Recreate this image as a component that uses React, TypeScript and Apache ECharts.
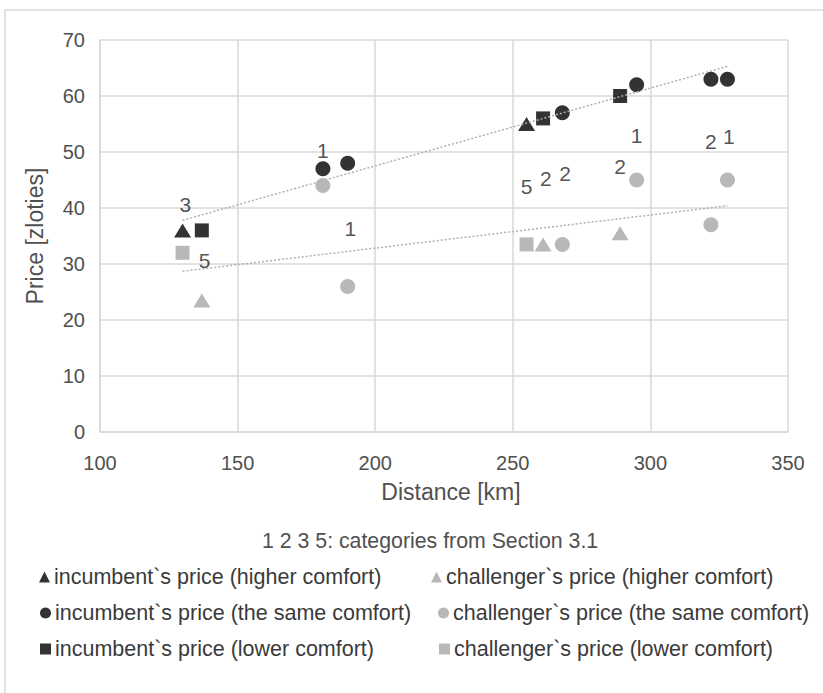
import React, { useEffect, useRef } from "react";
import * as echarts from "echarts";

const incHigherDist = [130, 255];
const incHigherPrice = [36, 55];
const incSameDist = [181, 190, 268, 295, 322, 328];
const incSamePrice = [47, 48, 57, 62, 63, 63];
const incLowerDist = [137, 261, 289];
const incLowerPrice = [36, 56, 60];
const chHigherDist = [137, 261, 289];
const chHigherPrice = [23.5, 33.5, 35.5];
const chSameDist = [181, 190, 268, 295, 322, 328];
const chSamePrice = [44, 26, 33.5, 45, 37, 45];
const chLowerDist = [130, 255];
const chLowerPrice = [32, 33.5];

const trendIncDist = [130, 328];
const trendIncPrice = [37.8, 65.3];
const trendChDist = [130, 328];
const trendChPrice = [28.7, 40.4];

const labelDist = [131, 138, 181, 191, 255, 262, 269, 289, 295, 322, 328.5];
const labelPrice = [40.6, 30.7, 50.2, 36.4, 43.9, 45.3, 46.2, 47.5, 53.0, 51.8, 52.7];
const labelCat = ["3", "5", "1", "1", "5", "2", "2", "2", "1", "2", "1"];

const seriesNames = [
  "incumbent`s price (higher comfort)",
  "challenger`s price (higher comfort)",
  "incumbent`s price (the same comfort)",
  "challenger`s price (the same comfort)",
  "incumbent`s price (lower comfort)",
  "challenger`s price (lower comfort)",
];

const FONT = "'Liberation Sans', Arial, sans-serif";
const BLACK = "#000000";
const GRAY = "#a6a6a6";

const zip = (a: number[], b: number[]) => a.map((v, i) => [v, b[i]]);

export default function App() {
  const ref = useRef<HTMLDivElement>(null);
  useEffect(() => {
    if (!ref.current) return;
    const chart = echarts.init(ref.current, undefined, { renderer: "svg" });
    const legendPos = [
      { left: 39, top: 566, icon: "triangle" },
      { left: 431, top: 566, icon: "triangle" },
      { left: 40, top: 602, icon: "circle" },
      { left: 438, top: 602, icon: "circle" },
      { left: 40, top: 638, icon: "rect" },
      { left: 439, top: 638, icon: "rect" },
    ];
    const option: any = {
      animation: false,
      backgroundColor: "#ffffff",
      grid: { left: 100, right: 35, top: 40, bottom: 261, containLabel: false },
      xAxis: {
        type: "value",
        min: 100,
        max: 350,
        interval: 50,
        name: "Distance [km]",
        nameLocation: "middle",
        nameGap: 48,
        nameTextStyle: { fontFamily: FONT, fontSize: 23, color: "#505050", padding: [0, 0, 0, 14] },
        axisLine: { show: true, lineStyle: { color: "#d9d9d9", width: 1.5 } },
        axisTick: { show: false },
        axisLabel: { fontFamily: FONT, fontSize: 20, color: "#505050", margin: 21 },
        splitLine: { show: true, lineStyle: { color: "#d9d9d9", width: 1.5 } },
      },
      yAxis: {
        type: "value",
        min: 0,
        max: 70,
        interval: 10,
        name: "Price [zloties]",
        nameLocation: "middle",
        nameGap: 54,
        nameTextStyle: { fontFamily: FONT, fontSize: 23, color: "#505050" },
        axisLine: { show: true, lineStyle: { color: "#d9d9d9", width: 1.5 } },
        axisTick: { show: false },
        axisLabel: { fontFamily: FONT, fontSize: 20, color: "#505050", margin: 15 },
        splitLine: { show: true, lineStyle: { color: "#d9d9d9", width: 1.5 } },
      },
      legend: legendPos.map((p, i) => ({
        data: [{ name: seriesNames[i], icon: p.icon }],
        left: p.left,
        top: p.top,
        padding: 0,
        itemWidth: 11,
        itemHeight: 11,
        itemGap: 0,
        selectedMode: false,
        textStyle: { fontFamily: FONT, fontSize: 21.5, color: "#3a3a3a", padding: [0, 0, 0, -1] },
      })),
      graphic: [
        {
          type: "rect",
          shape: { x: 5, y: 10, width: 900, height: 800 },
          style: { fill: "none", stroke: "#d9d9d9", lineWidth: 1.5 },
          silent: true,
        },
        {
          type: "text",
          left: 262,
          top: 530,
          style: {
            text: "1 2 3 5: categories from Section 3.1",
            fontFamily: FONT,
            fontSize: 21.3,
            fill: "#505050",
          },
        },
      ],
      series: [
        {
          name: seriesNames[0],
          type: "scatter",
          symbol: "triangle",
          symbolSize: [17, 14],
          itemStyle: { color: BLACK },
          data: zip(incHigherDist, incHigherPrice),
          z: 2,
        },
        {
          name: seriesNames[1],
          type: "scatter",
          symbol: "triangle",
          symbolSize: [17, 14],
          itemStyle: { color: GRAY },
          data: zip(chHigherDist, chHigherPrice),
          z: 2,
        },
        {
          name: seriesNames[2],
          type: "scatter",
          symbol: "circle",
          symbolSize: 15,
          itemStyle: { color: BLACK },
          data: zip(incSameDist, incSamePrice),
          z: 2,
        },
        {
          name: seriesNames[3],
          type: "scatter",
          symbol: "circle",
          symbolSize: 15,
          itemStyle: { color: GRAY },
          data: zip(chSameDist, chSamePrice),
          z: 2,
        },
        {
          name: seriesNames[4],
          type: "scatter",
          symbol: "rect",
          symbolSize: 14,
          itemStyle: { color: BLACK },
          data: zip(incLowerDist, incLowerPrice),
          z: 2,
        },
        {
          name: seriesNames[5],
          type: "scatter",
          symbol: "rect",
          symbolSize: 14,
          itemStyle: { color: GRAY },
          data: zip(chLowerDist, chLowerPrice),
          z: 2,
        },
        {
          name: "trend incumbent",
          type: "line",
          symbol: "none",
          data: zip(trendIncDist, trendIncPrice),
          lineStyle: { color: "#b0b0b0", width: 1.5, type: [2, 2] },
          z: 5,
          silent: true,
        },
        {
          name: "trend challenger",
          type: "line",
          symbol: "none",
          data: zip(trendChDist, trendChPrice),
          lineStyle: { color: "#b0b0b0", width: 1.5, type: [2, 2] },
          z: 5,
          silent: true,
        },
        {
          name: "categories",
          type: "scatter",
          symbolSize: 0,
          silent: true,
          data: labelDist.map((d, i) => [d, labelPrice[i], labelCat[i]]),
          label: {
            show: true,
            position: "inside",
            formatter: (p: any) => p.value[2],
            fontFamily: FONT,
            fontSize: 21,
            color: "#262626",
          },
          z: 6,
        },
      ],
    };
    chart.setOption(option);
    return () => chart.dispose();
  }, []);
  return (
    <div
      ref={ref}
      style={{ position: "absolute", left: 0, top: 0, width: 823, height: 693 }}
    />
  );
}
